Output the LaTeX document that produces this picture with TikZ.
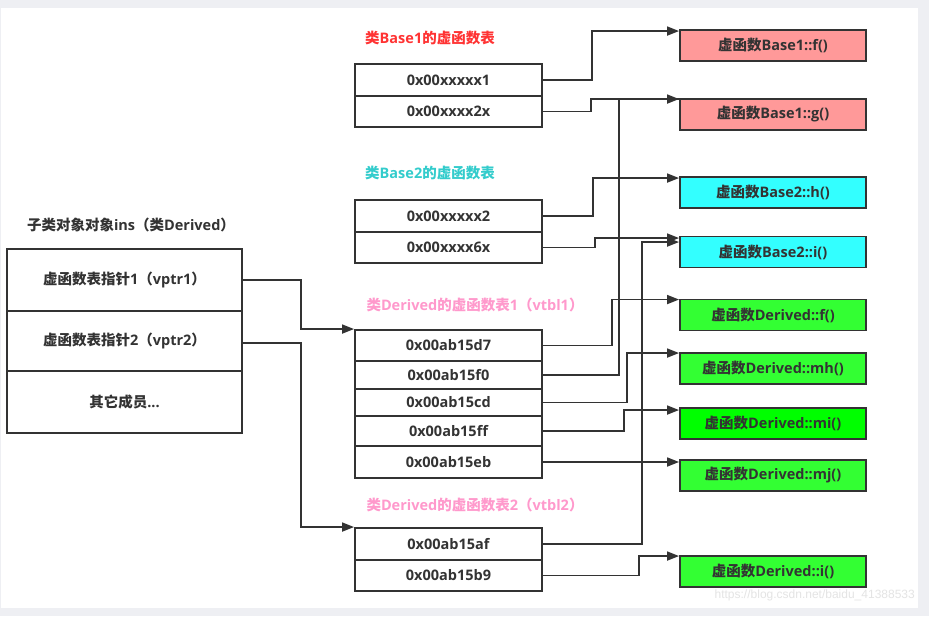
\documentclass[tikz,border=0pt]{standalone}
\usepackage{fontspec}
\setmainfont{Open Sans}
\newfontfamily\cjk{Noto Sans CJK SC}
\newfontfamily\wmfont{Liberation Sans}
\usetikzlibrary{arrows.meta}
\definecolor{ink}{HTML}{333333}
\definecolor{bgray}{HTML}{EEEFF3}
\definecolor{redfill}{HTML}{FF9999}
\definecolor{cyanfill}{HTML}{33FFFF}
\definecolor{greenfill}{HTML}{33FF33}
\definecolor{greenfillb}{HTML}{00FF00}
\definecolor{redtitle}{HTML}{FF3333}
\definecolor{cyantitle}{HTML}{33CCCC}
\definecolor{pinktitle}{HTML}{FF99CC}
\definecolor{wmcolor}{HTML}{E4E4E4}
\begin{document}
\begin{tikzpicture}[x=1pt,y=-1pt,
  txt/.style={font=\bfseries\fontsize{14.5}{17}\selectfont, text=ink},
  cell/.style={txt, draw=ink, line width=1.9pt, minimum width=187pt, inner sep=0pt},
  objcell/.style={txt, draw=ink, line width=1.9pt, minimum width=235pt, inner sep=0pt},
  fnbox/.style={txt, draw=ink, line width=1.9pt, minimum width=186pt, minimum height=31pt, inner sep=0pt},
  title/.style={font=\bfseries\fontsize{14.5}{17}\selectfont, inner sep=0pt},
  conn/.style={draw=ink, line width=1.7pt, -{Triangle[length=12pt,width=9pt]}},
  link/.style={draw=ink, line width=1.7pt}
]
\fill[bgray] (0,0) rectangle (929,616);
\fill[white] (1,8) rectangle (918,608);
\useasboundingbox (0,0) rectangle (929,616);

% titles
\node[title, text=redtitle] (tb1) at (430,38) {{\cjk 类}Base1{\cjk 的虚函数表}};
\node[title, text=cyantitle] (tb2) at (430,173) {{\cjk 类}Base2{\cjk 的虚函数表}};
\node[title, text=pinktitle] (td1) at (475,305) {{\cjk 类}Derived{\cjk 的虚函数表}1{\cjk （}vtbl1{\cjk ）}};
\node[title, text=pinktitle] (td2) at (475,505) {{\cjk 类}Derived{\cjk 的虚函数表}2{\cjk （}vtbl2{\cjk ）}};
\node[title, text=ink] (tobj) at (131,225) {{\cjk 子类对象对象}ins{\cjk （类}Derived{\cjk ）}};

% object
\node[objcell, minimum height=62pt] (v1) at (124.5,280) {{\cjk 虚函数表指针}1{\cjk （}vptr1{\cjk ）}};
\node[objcell, minimum height=60pt] (v2) at (124.5,341) {{\cjk 虚函数表指针}2{\cjk （}vptr2{\cjk ）}};
\node[objcell, minimum height=62pt] (v3) at (124.5,402) {{\cjk 其它成员}...};

% Base1 table
\node[cell, minimum height=32pt] (b1a) at (448.5,80) {0x00xxxxx1};
\node[cell, minimum height=31pt] (b1b) at (448.5,111.5) {0x00xxxx2x};
% Base2 table
\node[cell, minimum height=32pt] (b2a) at (448.5,216) {0x00xxxxx2};
\node[cell, minimum height=31pt] (b2b) at (448.5,247.5) {0x00xxxx6x};
% Derived table 1
\node[cell, minimum height=31pt] (d1) at (448.5,345.5) {0x00ab15d7};
\node[cell, minimum height=28pt] (d2) at (448.5,375) {0x00ab15f0};
\node[cell, minimum height=27pt] (d3) at (448.5,402.5) {0x00ab15cd};
\node[cell, minimum height=30pt] (d4) at (448.5,431) {0x00ab15ff};
\node[cell, minimum height=32pt] (d5) at (448.5,462) {0x00ab15eb};
% Derived table 2
\node[cell, minimum height=32pt] (e1) at (448.5,544) {0x00ab15af};
\node[cell, minimum height=31pt] (e2) at (448.5,575.5) {0x00ab15b9};

% function boxes
\node[fnbox, fill=redfill] (ff) at (773,45.5) {{\cjk 虚函数}Base1::f()};
\node[fnbox, fill=redfill] (fg) at (773,114.5) {{\cjk 虚函数}Base1::g()};
\node[fnbox, fill=cyanfill] (fh) at (773,192.5) {{\cjk 虚函数}Base2::h()};
\node[fnbox, fill=cyanfill] (fi) at (773,252) {{\cjk 虚函数}Base2::i()};
\node[fnbox, fill=greenfill] (gf) at (773,315) {{\cjk 虚函数}Derived::f()};
\node[fnbox, fill=greenfill] (gmh) at (773,368.5) {{\cjk 虚函数}Derived::mh()};
\node[fnbox, fill=greenfillb] (gmi) at (773,423.5) {{\cjk 虚函数}Derived::mi()};
\node[fnbox, fill=greenfill] (gmj) at (773,475.5) {{\cjk 虚函数}Derived::mj()};
\node[fnbox, fill=greenfill] (gi) at (773,571.5) {{\cjk 虚函数}Derived::i()};

% arrow targets
\coordinate (inff) at ([yshift=-2pt]ff.north west);
\coordinate (infg) at ([yshift=-1pt]fg.north west);
\coordinate (infh) at ([yshift=-2pt]fh.north west);
\coordinate (infi) at ([yshift=-2.5pt]fi.north west);
\coordinate (infi2) at ([yshift=-6.5pt]fi.north west);
\coordinate (ingf) at ([yshift=-1pt]gf.north west);
\coordinate (ingmh) at ([yshift=-1pt]gmh.north west);
\coordinate (ingmi) at ([yshift=-3pt]gmi.north west);
\coordinate (ingi) at ([yshift=-1pt]gi.north west);
\coordinate (v2out) at ([yshift=-2pt]v2.east);

% connectors
\draw[conn] (b1a.east) -- ++(49,0) |- (inff);
\draw[conn] (b1b.east) -- ++(48,0) |- (infg);
\draw[conn] (b2a.east) -- ++(50,0) |- (infh);
\draw[conn] (b2b.east) -- ++(52,0) |- (infi);
\draw[conn] (d1.east) -- ++(69,0) |- (ingf);
\draw[link] (d2.east) -- ++(76,0) |- (infg);
\draw[conn] (d3.east) -- ++(84,0) |- (ingmh);
\draw[conn] (d4.east) -- ++(81,0) |- (ingmi);
\draw[conn] (d5.east) -- (d5.east -| gmj.west);
\draw[conn] (e1.east) -- ++(99,0) |- (infi2);
\draw[conn] (e2.east) -- ++(96,0) |- (ingi);
\draw[conn] (v1.east) -- ++(58,0) |- (d1.north west);
\draw[conn] (v2out) -- ++(58,0) |- (e1.north west);

% watermark
\node[font=\wmfont\fontsize{12}{14}\selectfont, text=wmcolor, anchor=east, inner sep=0pt] (wm) at (915,595) {https://blog.csdn.net/baidu\_41388533};
\end{tikzpicture}
\end{document}
